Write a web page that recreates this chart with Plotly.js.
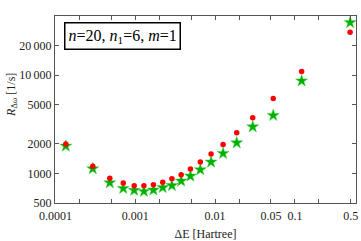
<!DOCTYPE html>
<html>
<head>
<meta charset="utf-8">
<script src="https://cdn.plot.ly/plotly-3.0.1.min.js"></script>
<style>html,body{margin:0;padding:0;background:#fff}#chart{width:361px;height:241px}</style>
</head>
<body>
<div id="chart"></div>
<script>
// Energy difference ΔE [Hartree]
var deltaE = [0.000135, 0.000294, 0.00048, 0.000708, 0.00097, 0.001285, 0.00169, 0.00221, 0.00288, 0.00376, 0.00491, 0.00653, 0.00891, 0.0126, 0.01866, 0.0296, 0.0535, 0.1213, 0.491];
// Red circles
var rateRed = [1990, 1180, 891, 798, 750, 750, 766, 814, 881, 970, 1108, 1305, 1574, 1975, 2590, 3680, 5795, 10900, 27350];
// Green stars
var rateGreen = [1898, 1116, 804, 705, 673, 657, 678, 719, 753, 837, 940, 1090, 1305, 1600, 2050, 2980, 3893, 8750, 34300];

var xTickVals = [0.0001, 0.0002, 0.0005, 0.001, 0.002, 0.005, 0.01, 0.02, 0.05, 0.1, 0.2, 0.5];
var xTickText = ['0.0001', '', '', '0.001', '', '', '0.01', '', '0.05', '0.1', '', '0.5'];
var yTickVals = [500, 1000, 2000, 5000, 10000, 20000];
var yTickText = ['500', '1000', '2000', '5000', '10\u2009000', '20\u2009000'];

var serif = 'Liberation Serif, Times New Roman, serif';

var traces = [
  {x: deltaE, y: rateGreen, mode: 'markers', type: 'scatter',
   marker: {symbol: 'star', size: 9, color: '#00b000', line: {width: 0.5, color: '#40d040'}}},
  {x: deltaE, y: rateRed, mode: 'markers', type: 'scatter',
   marker: {symbol: 'circle', size: 5.5, color: '#ff0000'}}
];

var axisCommon = {
  showgrid: false, zeroline: false, showline: true, linecolor: '#555', linewidth: 1,
  mirror: 'ticks', ticks: 'inside', ticklen: 4, tickwidth: 1, tickcolor: '#555',
  tickfont: {family: serif, size: 12, color: '#222'}
};

var layout = {
  width: 361, height: 241,
  margin: {l: 55, r: 5, t: 16, b: 38},
  paper_bgcolor: '#fff', plot_bgcolor: '#fff',
  showlegend: false,
  xaxis: Object.assign({}, axisCommon, {
    type: 'log', range: [-4.005, -0.235],
    tickmode: 'array', tickvals: xTickVals, ticktext: xTickText,
    ticklabelstandoff: 2,
    title: {text: '\u0394E [Hartree]', font: {family: serif, size: 12, color: '#222'}, standoff: 8}
  }),
  yaxis: Object.assign({}, axisCommon, {
    type: 'log', range: [Math.log10(500), 4.602],
    tickmode: 'array', tickvals: yTickVals, ticktext: yTickText
  }),
  annotations: [
    {xref: 'paper', yref: 'paper', x: 0.03, y: 0.968, xanchor: 'left', yanchor: 'top',
     text: '<i>n</i>=20, <i>n</i><sub>1</sub>=6, <i>m</i>=1', showarrow: false,
     font: {family: serif, size: 16, color: '#000'},
     bordercolor: '#000', borderwidth: 1.5, borderpad: 3, bgcolor: '#fff'},
    {xref: 'paper', yref: 'paper', x: -0.145, y: 0.58, xanchor: 'center', yanchor: 'middle',
     textangle: -90, showarrow: false,
     text: '<i>R</i><sub>\u0394\u03c9</sub> [1/s]',
     font: {family: serif, size: 12, color: '#222'}}
  ]
};

Plotly.newPlot('chart', traces, layout, {staticPlot: true, displayModeBar: false});
</script>
</body>
</html>
